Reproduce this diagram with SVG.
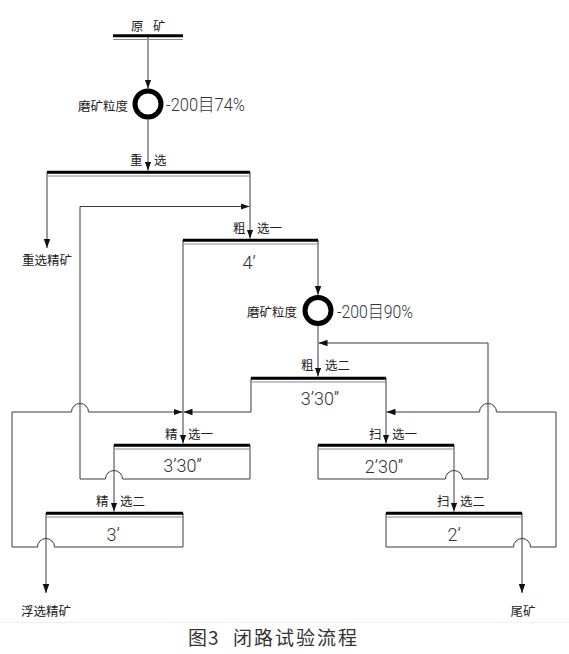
<svg xmlns="http://www.w3.org/2000/svg" width="569" height="654" viewBox="0 0 569 654">
<defs>
<marker id="ah" markerUnits="userSpaceOnUse" markerWidth="10" markerHeight="7" refX="9" refY="3.25" orient="auto">
<path d="M0,0 L9,3.25 L0,6.5 z" fill="#111"/>
</marker>
<style>
.ln{fill:none;stroke:#3a3a3a;stroke-width:1}
.arr{marker-end:url(#ah)}
.thick{stroke:#000;stroke-width:3}
.thin{stroke:#8a8a8a;stroke-width:1}
.mill{fill:none;stroke:#000;stroke-width:5}
.cn{font-family:"Noto Sans CJK SC",sans-serif;font-size:12.5px;fill:#222;dominant-baseline:central}
.num{font-family:Roboto,"Liberation Sans","Noto Sans CJK SC",sans-serif;font-weight:300;font-size:18px;fill:#333}
.cap{font-family:"Noto Sans CJK SC",serif;font-size:19px;fill:#333;dominant-baseline:central}
</style>
</defs>
<rect width="569" height="654" fill="#fff"/>

<g id="connectors">
<path class="ln arr" d="M148,37 V88.5"/>
<path class="ln arr" d="M148,119.5 V170.5"/>
<path class="ln arr" d="M47,172 V248"/>
<path class="ln arr" d="M250,172 V238.5"/>
<path class="ln arr" d="M250,445 V479 H122.5 A8.5,8.5 0 0 0 105.5,479 H80 V206.5 H249.5"/>
<path class="ln arr" d="M318,240 V295"/>
<path class="ln arr" d="M318,326 V376.5"/>
<path class="ln arr" d="M318,445 V479 H445.5 A8.5,8.5 0 0 1 462.5,479 H488 V343 H318.5"/>
<path class="ln arr" d="M183,240 V443.5"/>
<path class="ln arr" d="M251,378 V412 H183.5"/>
<path class="ln arr" d="M183,513 V547 H54.5 A8.5,8.5 0 0 0 37.5,547 H12 V412 H71.5 A8.5,8.5 0 0 1 88.5,412 H182.5"/>
<path class="ln arr" d="M386,378 V443.5"/>
<path class="ln arr" d="M386,513 V547 H513.5 A8.5,8.5 0 0 1 530.5,547 H556 V412 H496.5 A8.5,8.5 0 0 0 479.5,412 H386.5"/>
<path class="ln arr" d="M454,445 V511.5"/>
<path class="ln arr" d="M114,445 V511.5"/>
<path class="ln arr" d="M46,513 V593"/>
<path class="ln arr" d="M522,513 V593"/>
</g>

<g id="yuankuang">
<line class="thick" x1="113" y1="35.8" x2="183" y2="35.8"/>
<line class="thin" x1="113" y1="39.5" x2="183" y2="39.5"/>
<text class="cn" x="131 143 153" y="25.5">原 矿</text>
</g>

<g id="mill1">
<circle class="mill" cx="148" cy="104" r="13"/>
<text class="cn" x="128" y="105.5" text-anchor="end">磨矿粒度</text>
<text class="num" x="166" y="111" font-size="17" textLength="79" lengthAdjust="spacingAndGlyphs">-200目74%</text>
</g>

<g id="zhongxuan">
<line class="thick" x1="47" y1="172.3" x2="250" y2="172.3"/>
<line class="thin" x1="47" y1="176" x2="250" y2="176"/>
<text class="cn" x="130 142 154" y="159.5">重 选</text>
</g>

<g id="zhongxuan-conc">
<text class="cn" x="47" y="259" text-anchor="middle">重选精矿</text>
</g>

<g id="cuxuan1">
<line class="thick" x1="183" y1="240.3" x2="318" y2="240.3"/>
<line class="thin" x1="183" y1="244" x2="318" y2="244"/>
<text class="cn" x="233 245 257" y="227.5">粗 选一</text>
<text class="num" x="249" y="268.5" text-anchor="middle">4’</text>
</g>

<g id="mill2">
<circle class="mill" cx="318" cy="310.5" r="13"/>
<text class="cn" x="297" y="311.5" text-anchor="end">磨矿粒度</text>
<text class="num" x="337" y="318" font-size="17" textLength="76" lengthAdjust="spacingAndGlyphs">-200目90%</text>
</g>

<g id="cuxuan2">
<line class="thick" x1="251" y1="378.3" x2="386" y2="378.3"/>
<line class="thin" x1="251" y1="382" x2="386" y2="382"/>
<text class="cn" x="301 313 325" y="364">粗 选二</text>
<text class="num" x="320" y="404.5" text-anchor="middle">3’30”</text>
</g>

<g id="jingxuan1">
<line class="thick" x1="114" y1="445.3" x2="250" y2="445.3"/>
<line class="thin" x1="114" y1="449" x2="250" y2="449"/>
<text class="cn" x="165 177 188" y="433">精 选一</text>
<text class="num" x="182.5" y="471.5" text-anchor="middle">3’30”</text>
</g>

<g id="saoxuan1">
<line class="thick" x1="318" y1="445.3" x2="454" y2="445.3"/>
<line class="thin" x1="318" y1="449" x2="454" y2="449"/>
<text class="cn" x="369 381 392" y="433">扫 选一</text>
<text class="num" x="384" y="473" text-anchor="middle">2’30”</text>
</g>

<g id="jingxuan2">
<line class="thick" x1="46" y1="513.3" x2="183" y2="513.3"/>
<line class="thin" x1="46" y1="517" x2="183" y2="517"/>
<text class="cn" x="96 108 120" y="500">精 选二</text>
<text class="num" x="113" y="540.5" text-anchor="middle">3’</text>
</g>

<g id="saoxuan2">
<line class="thick" x1="386" y1="513.3" x2="522" y2="513.3"/>
<line class="thin" x1="386" y1="517" x2="522" y2="517"/>
<text class="cn" x="437 449 460" y="500">扫 选二</text>
<text class="num" x="454" y="541" text-anchor="middle">2’</text>
</g>

<g id="fuxuan-conc">
<text class="cn" x="46" y="610" text-anchor="middle">浮选精矿</text>
</g>

<g id="tailings">
<text class="cn" x="523" y="610" text-anchor="middle">尾矿</text>
</g>

<line x1="0" y1="622.5" x2="569" y2="622.5" stroke="#f0f0f0" stroke-width="1"/>

<g id="caption">
<text class="cap" x="188 208 218 233 254 275 296 317 338" y="636">图3 闭路试验流程</text>
</g>
</svg>
